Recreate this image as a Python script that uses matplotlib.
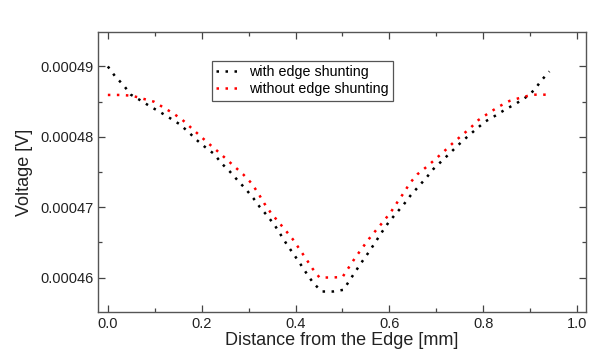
import numpy as np
import matplotlib
matplotlib.use("Agg")
import matplotlib.pyplot as plt
from matplotlib.ticker import MultipleLocator, FormatStrFormatter

plt.rcParams['font.family'] = ['Liberation Sans', 'DejaVu Sans']

# distance [mm] and voltage [1e-5 V]
x_with = [0, 0.016, 0.033, 0.049, 0.068, 0.091, 0.112, 0.134, 0.152, 0.171,
          0.189, 0.206, 0.227, 0.242, 0.260, 0.277, 0.294, 0.310, 0.324, 0.340,
          0.356, 0.382, 0.397, 0.409, 0.424, 0.438, 0.456, 0.480, 0.502, 0.516,
          0.529, 0.543, 0.557, 0.571, 0.584, 0.598, 0.614, 0.630, 0.645, 0.662,
          0.678, 0.694, 0.712, 0.729, 0.747, 0.765, 0.783, 0.804, 0.826, 0.848,
          0.870, 0.891, 0.909, 0.923, 0.941]
v_with = [49.0, 48.855, 48.737, 48.599, 48.524, 48.429, 48.349, 48.259, 48.183, 48.074,
          47.956, 47.861, 47.753, 47.625, 47.506, 47.378, 47.256, 47.128, 47.0, 46.876,
          46.739, 46.464, 46.322, 46.205, 46.053, 45.920, 45.801, 45.801, 45.825, 45.967,
          46.099, 46.237, 46.369, 46.511, 46.645, 46.781, 46.909, 47.033, 47.165, 47.293,
          47.412, 47.544, 47.658, 47.767, 47.885, 47.994, 48.098, 48.216, 48.301, 48.392,
          48.472, 48.563, 48.666, 48.794, 48.930]

x_without = [0, 0.026, 0.051, 0.074, 0.098, 0.119, 0.139, 0.159, 0.177, 0.196,
             0.214, 0.233, 0.252, 0.270, 0.288, 0.306, 0.320, 0.333, 0.347, 0.363,
             0.379, 0.394, 0.408, 0.422, 0.436, 0.451, 0.475, 0.500, 0.514, 0.527,
             0.542, 0.556, 0.571, 0.586, 0.603, 0.617, 0.631, 0.644, 0.660, 0.680,
             0.698, 0.716, 0.735, 0.753, 0.772, 0.790, 0.811, 0.833, 0.856, 0.880,
             0.905, 0.940]
v_without = [48.595, 48.595, 48.585, 48.543, 48.500, 48.415, 48.335, 48.240, 48.131, 48.017,
             47.909, 47.800, 47.686, 47.577, 47.469, 47.341, 47.203, 47.057, 46.923, 46.795,
             46.668, 46.545, 46.408, 46.270, 46.128, 46.0, 46.0, 46.006, 46.148, 46.280,
             46.418, 46.545, 46.668, 46.787, 46.929, 47.071, 47.207, 47.345, 47.469, 47.577,
             47.682, 47.790, 47.909, 48.013, 48.122, 48.240, 48.335, 48.429, 48.510, 48.557,
             48.599, 48.599]

fig = plt.figure(figsize=(6.02, 3.64), dpi=100)
ax = fig.add_axes([0.1628, 0.1429, 0.8106, 0.7692])

dots = (0, (1, 2.6))
ax.plot(x_with, np.array(v_with) * 1e-5, color='black', lw=1.8,
        linestyle=dots, label='with edge shunting')
ax.plot(x_without, np.array(v_without) * 1e-5, color='red', lw=1.8,
        linestyle=dots, label='without edge shunting')

ax.set_xlim(-0.021, 1.019)
ax.set_ylim(0.0004551, 0.0004949)

ax.xaxis.set_major_locator(MultipleLocator(0.2))
ax.xaxis.set_minor_locator(MultipleLocator(0.1))
ax.xaxis.set_major_formatter(FormatStrFormatter('%.1f'))
ax.yaxis.set_major_locator(MultipleLocator(0.00001))
ax.yaxis.set_minor_locator(MultipleLocator(0.000005))
ax.yaxis.set_major_formatter(FormatStrFormatter('%.5f'))

ax.tick_params(which='both', direction='in', top=True, right=True,
               labelsize=10.5, colors='#444444', labelcolor='#222222')
ax.tick_params(which='major', length=5, width=0.9)
ax.tick_params(which='minor', length=3, width=0.9)
for s in ax.spines.values():
    s.set_color('#555555')
    s.set_linewidth(1.0)

ax.set_xlabel('Distance from the Edge [mm]', fontsize=13, color='#222222', labelpad=1)
ax.set_ylabel('Voltage [V]', fontsize=13, color='#222222', labelpad=5)

leg = ax.legend(loc='upper left', bbox_to_anchor=(0.234, 0.896), borderaxespad=0,
                fontsize=10.3, fancybox=False, framealpha=1, edgecolor='#555555',
                handlelength=1.6, handletextpad=0.7, labelspacing=0.2, borderpad=0.3)
leg.get_frame().set_linewidth(0.9)

plt.savefig('out.png', dpi=100)
